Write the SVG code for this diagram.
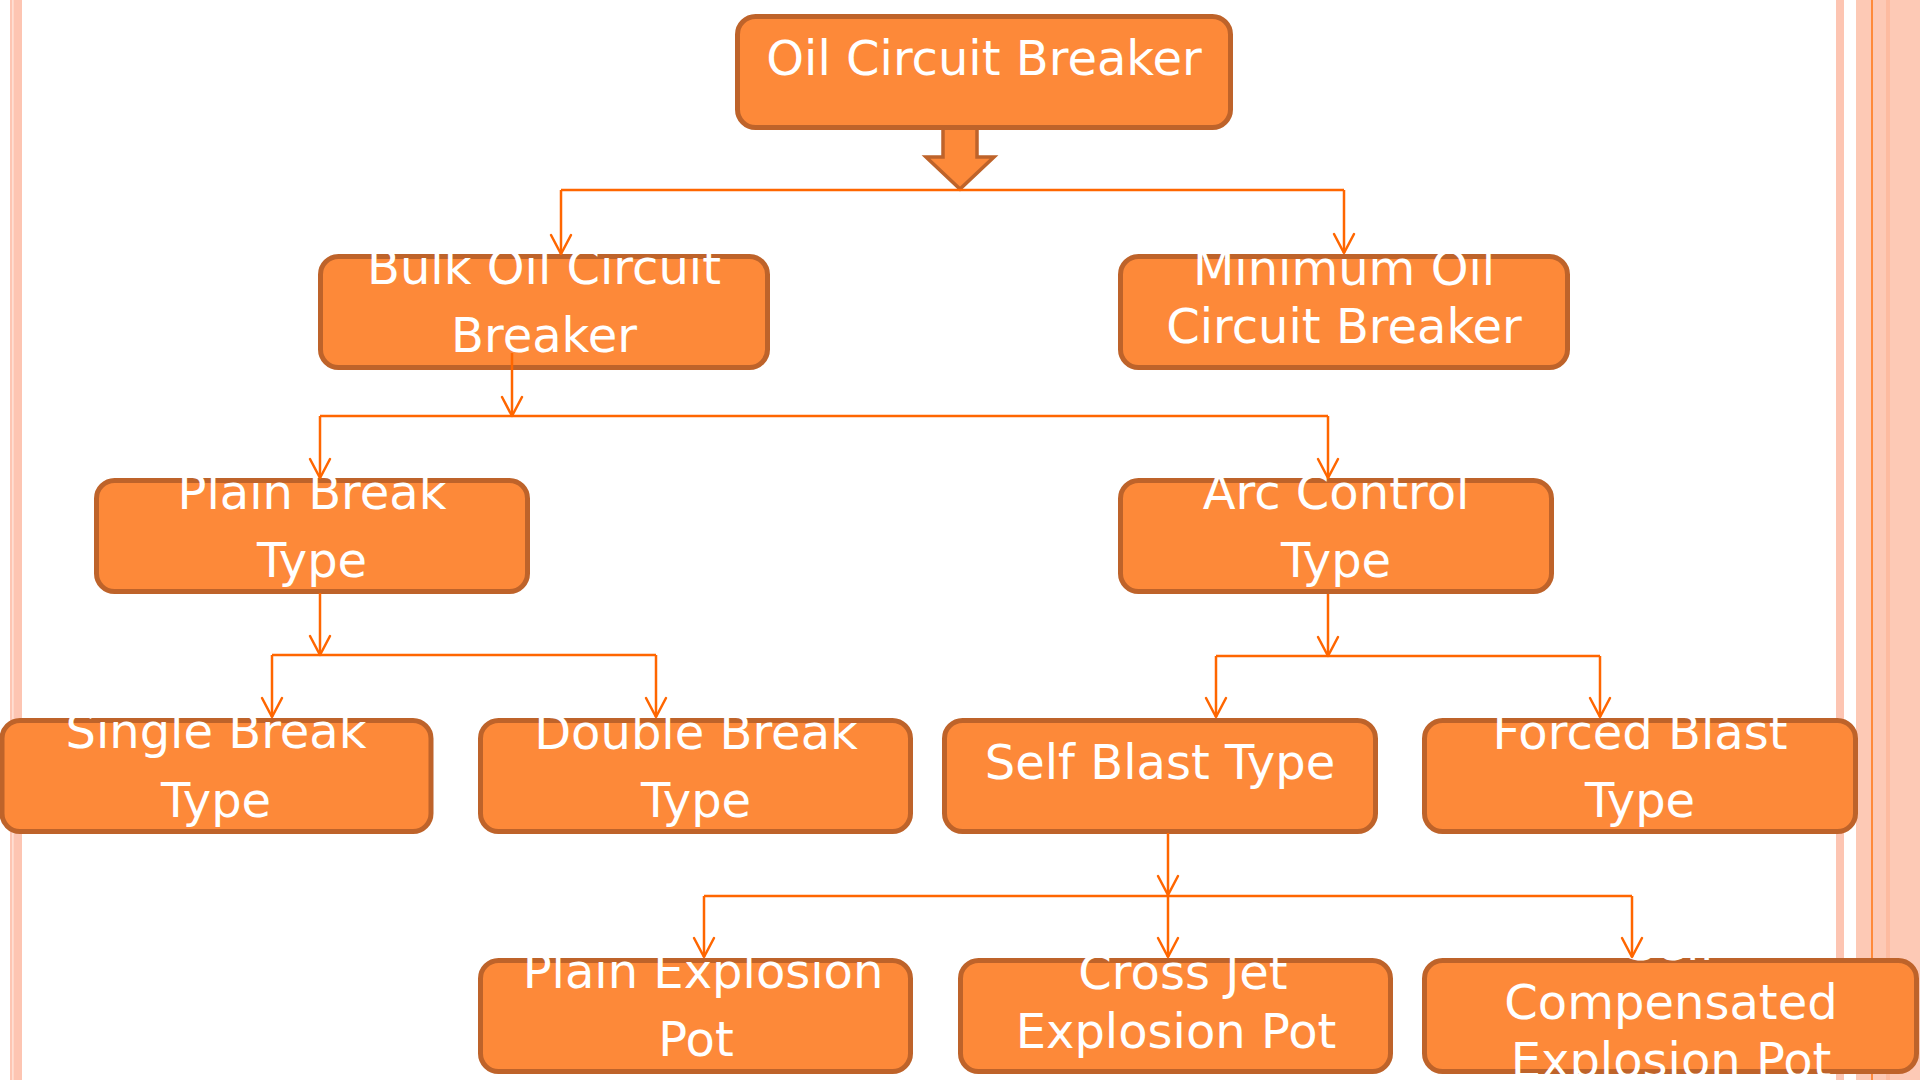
<svg xmlns="http://www.w3.org/2000/svg" width="1920" height="1080" viewBox="0 0 1920 1080">
<style>
.box{fill:#FD8939;stroke:#BE632A;stroke-width:5}
.lbl{font-family:"DejaVu Sans",Verdana,sans-serif;font-size:48px;fill:#FFFFFF;text-anchor:middle}
.conn{fill:none;stroke:#FF6600;stroke-width:2.5;stroke-linejoin:round}
.arr{marker-end:url(#ah)}
</style>
<defs>
<marker id="ah" markerUnits="userSpaceOnUse" orient="auto" refX="0" refY="0" markerWidth="30" markerHeight="30" overflow="visible">
<path d="M-19,-10 L0,0 L-19,10" fill="none" stroke="#FF6600" stroke-width="2.5" stroke-linejoin="round" stroke-linecap="round"/>
</marker>
<clipPath id="c-top"><rect x="735" y="13" width="498" height="117"/></clipPath>
<clipPath id="c-bulk"><rect x="318" y="253" width="452" height="117"/></clipPath>
<clipPath id="c-min"><rect x="1118" y="253" width="452" height="117"/></clipPath>
<clipPath id="c-pb"><rect x="94" y="477" width="436" height="117"/></clipPath>
<clipPath id="c-arc"><rect x="1118" y="477" width="436" height="117"/></clipPath>
<clipPath id="c-sb"><rect x="0" y="717" width="433" height="117"/></clipPath>
<clipPath id="c-db"><rect x="478" y="717" width="435" height="117"/></clipPath>
<clipPath id="c-self"><rect x="942" y="717" width="436" height="117"/></clipPath>
<clipPath id="c-fb"><rect x="1422" y="717" width="436" height="117"/></clipPath>
<clipPath id="c-pe"><rect x="478" y="957" width="435" height="117"/></clipPath>
<clipPath id="c-cj"><rect x="958" y="957" width="435" height="117"/></clipPath>
<clipPath id="c-sc"><rect x="1422" y="953" width="498" height="121"/></clipPath>
</defs>

<g id="background">
<rect x="0" y="0" width="1920" height="1080" fill="#FFFFFF"/>
<rect x="10" y="0" width="12" height="1080" fill="#FDC5B2"/>
<rect x="12.3" y="0" width="1.2" height="1080" fill="#FFE9E0"/>
<rect x="1836" y="0" width="8" height="1080" fill="#FDC5B2"/>
<rect x="1856" y="0" width="64" height="1080" fill="#FDC9B5"/>
<rect x="1886" y="0" width="4" height="1080" fill="#FDBBA0"/>
<rect x="1871" y="0" width="2" height="1080" fill="#FF8A3A"/>
</g>

<g id="node-oil-circuit-breaker">
<path d="M943,127 L977,127 L977,157 L994,157 L960,189 L926,157 L943,157 Z" fill="#FD8939" stroke="#BE632A" stroke-width="3.5"/>
<rect class="box" x="737.5" y="16.5" width="493" height="111" rx="18"/>
<g clip-path="url(#c-top)"><text class="lbl" x="984" y="75">Oil Circuit Breaker</text></g>
</g>

<g id="node-bulk-oil">
<rect class="box" x="320.5" y="256.5" width="447" height="111" rx="18"/>
<g clip-path="url(#c-bulk)"><text class="lbl"><tspan x="544" y="284">Bulk Oil Circuit</tspan><tspan x="544" y="352">Breaker</tspan></text></g>
</g>

<g id="node-minimum-oil">
<rect class="box" x="1120.5" y="256.5" width="447" height="111" rx="18"/>
<g clip-path="url(#c-min)"><text class="lbl"><tspan x="1344" y="285">Minimum Oil</tspan><tspan x="1344" y="343">Circuit Breaker</tspan></text></g>
</g>

<g id="node-plain-break">
<rect class="box" x="96.5" y="480.5" width="431" height="111" rx="18"/>
<g clip-path="url(#c-pb)"><text class="lbl"><tspan x="312" y="509">Plain Break</tspan><tspan x="312" y="577">Type</tspan></text></g>
</g>

<g id="node-arc-control">
<rect class="box" x="1120.5" y="480.5" width="431" height="111" rx="18"/>
<g clip-path="url(#c-arc)"><text class="lbl"><tspan x="1336" y="509">Arc Control</tspan><tspan x="1336" y="577">Type</tspan></text></g>
</g>

<g id="node-single-break">
<rect class="box" x="2" y="720.5" width="429" height="111" rx="18"/>
<g clip-path="url(#c-sb)"><text class="lbl"><tspan x="216" y="748">Single Break</tspan><tspan x="216" y="817">Type</tspan></text></g>
</g>

<g id="node-double-break">
<rect class="box" x="480.5" y="720.5" width="430" height="111" rx="18"/>
<g clip-path="url(#c-db)"><text class="lbl"><tspan x="696" y="749">Double Break</tspan><tspan x="696" y="817">Type</tspan></text></g>
</g>

<g id="node-self-blast">
<rect class="box" x="944.5" y="720.5" width="431" height="111" rx="18"/>
<g clip-path="url(#c-self)"><text class="lbl" x="1160" y="779">Self Blast Type</text></g>
</g>

<g id="node-forced-blast">
<rect class="box" x="1424.5" y="720.5" width="431" height="111" rx="18"/>
<g clip-path="url(#c-fb)"><text class="lbl"><tspan x="1640" y="749">Forced Blast</tspan><tspan x="1640" y="817">Type</tspan></text></g>
</g>

<g id="node-plain-explosion-pot">
<rect class="box" x="480.5" y="960.5" width="430" height="111" rx="18"/>
<g clip-path="url(#c-pe)"><text class="lbl"><tspan x="703" y="988">Plain Explosion</tspan><tspan x="696" y="1056">Pot</tspan></text></g>
</g>

<g id="node-cross-jet">
<rect class="box" x="960.5" y="960.5" width="430" height="111" rx="18"/>
<g clip-path="url(#c-cj)"><text class="lbl"><tspan x="1183" y="989">Cross Jet</tspan><tspan x="1176" y="1048">Explosion Pot</tspan></text></g>
</g>

<g id="node-self-compensated">
<rect class="box" x="1424.5" y="960.5" width="492" height="111" rx="18"/>
<g clip-path="url(#c-sc)"><text class="lbl"><tspan x="1671" y="960">Self</tspan><tspan x="1671" y="1019">Compensated</tspan><tspan x="1671" y="1077">Explosion Pot</tspan></text></g>
</g>

<g id="connectors">
<path class="conn" d="M561,190 L1344,190"/>
<path class="conn arr" d="M561,190 L561,254"/>
<path class="conn arr" d="M1344,190 L1344,253"/>

<path class="conn arr" d="M512,353 L512,416"/>
<path class="conn" d="M320,416 L1328,416"/>
<path class="conn arr" d="M320,416 L320,478"/>
<path class="conn arr" d="M1328,416 L1328,478"/>

<path class="conn arr" d="M320,593 L320,655"/>
<path class="conn" d="M272,655 L656,655"/>
<path class="conn arr" d="M272,655 L272,717"/>
<path class="conn arr" d="M656,655 L656,717"/>

<path class="conn arr" d="M1328,594 L1328,656"/>
<path class="conn" d="M1216,656 L1600,656"/>
<path class="conn arr" d="M1216,656 L1216,717"/>
<path class="conn arr" d="M1600,656 L1600,717"/>

<path class="conn arr" d="M1168,833 L1168,895"/>
<path class="conn" d="M704,896 L1632,896"/>
<path class="conn arr" d="M704,896 L704,957"/>
<path class="conn arr" d="M1168,896 L1168,957"/>
<path class="conn arr" d="M1632,896 L1632,957"/>
</g>
</svg>
